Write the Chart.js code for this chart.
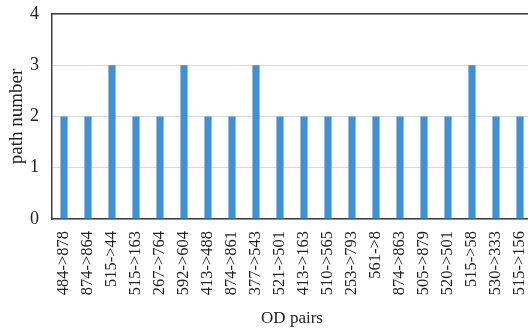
<!DOCTYPE html>
<html>
<head>
<meta charset="utf-8">
<script src="https://cdn.jsdelivr.net/npm/chart.js@4.4.0/dist/chart.umd.min.js"></script>
<style>
  html, body { margin: 0; padding: 0; background: #fff; overflow: hidden; }
  #wrap { width: 560px; height: 333px; }
</style>
</head>
<body>
<div id="wrap"><canvas id="myChart" width="560" height="333"></canvas></div>
<script>
const odPairs = [
    '484->878', '874->864', '515->44', '515->163', '267->764',
    '592->604', '413->488', '874->861', '377->543', '521->501',
    '413->163', '510->565', '253->793', '561->8', '874->863',
    '505->879', '520->501', '515->58', '530->333', '515->156'
]
const pathNumbers = [2, 2, 3, 2, 2, 3, 2, 2, 3, 2, 2, 2, 2, 2, 2, 2, 2, 3, 2, 2]
const yTicks = [0, 1, 2, 3, 4]

const serif = "'Liberation Serif', 'Times New Roman', serif"
const axisColor = '#404040'

const data = {
    labels: odPairs,
    datasets: [{
        data: pathNumbers,
        backgroundColor: '#4190d3',
        barPercentage: 0.3,
        categoryPercentage: 1.0
    }]
}

const config = {
    type: 'bar',
    data: data,
    options: {
        responsive: false,
        animation: false,
        layout: { padding: { top: 14, right: 28, bottom: 4, left: 0 } },
        plugins: { legend: { display: false }, tooltip: { enabled: false } },
        scales: {
            x: {
                grid: { display: false, drawTicks: false },
                border: { display: true, color: axisColor, width: 1.5 },
                ticks: {
                    color: '#222',
                    font: { family: serif, size: 16.5 },
                    minRotation: 90, maxRotation: 90,
                    autoSkip: false,
                    padding: 12
                },
                title: {
                    display: true, text: 'OD pairs', color: '#222',
                    font: { family: serif, size: 17 },
                    padding: { top: 4, bottom: 0 }
                },
                afterFit: (s) => { s.height = 110 }
            },
            xTop: {
                position: 'top',
                grid: { display: false, drawTicks: false },
                border: { display: true, color: axisColor, width: 1.5 },
                ticks: { display: false },
                afterFit: (s) => { s.height = 0 }
            },
            y: {
                min: 0, max: 4,
                afterBuildTicks: (s) => { s.ticks = yTicks.map(v => ({ value: v })) },
                grid: { color: '#d9d9d9', drawTicks: false },
                border: { display: true, color: axisColor, width: 1.5 },
                ticks: {
                    color: '#222',
                    font: { family: serif, size: 18 },
                    padding: 13
                },
                title: {
                    display: true, text: 'path number', color: '#222',
                    font: { family: serif, size: 19 },
                    padding: { top: 6, bottom: 0 }
                },
                afterFit: (s) => {
                    s.width = 52
                    s.paddingTop = 0
                    s.paddingBottom = 0
                }
            }
        }
    }
}

new Chart(document.getElementById('myChart'), config)
</script>
</body>
</html>
